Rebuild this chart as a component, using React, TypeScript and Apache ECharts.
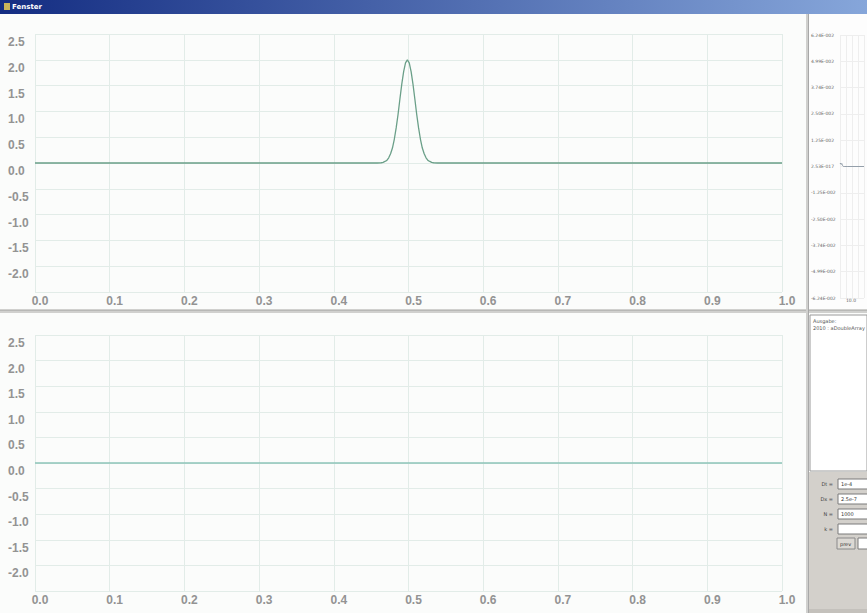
import React, { useEffect, useRef } from "react";
import * as echarts from "echarts";

// ---- data ----
const xTickLabels = ["0.0", "0.1", "0.2", "0.3", "0.4", "0.5", "0.6", "0.7", "0.8", "0.9", "1.0"];
const yTickLabels = ["-2.0", "-1.5", "-1.0", "-0.5", "0.0", "0.5", "1.0", "1.5", "2.0", "2.5"];

const topX = [
  0, 0.458, 0.4635, 0.466, 0.4685, 0.471, 0.4735, 0.476, 0.4785, 0.481, 0.4835, 0.486, 0.4885, 0.491,
  0.4935, 0.496, 0.4985, 0.501, 0.5035, 0.506, 0.5085, 0.511, 0.5135, 0.516, 0.5185, 0.521, 0.5235,
  0.526, 0.5285, 0.531, 0.5335, 0.539, 1,
];
const topY = [
  0, 0, 0.005, 0.012, 0.03, 0.05, 0.1, 0.18, 0.29, 0.46, 0.68, 0.94, 1.24, 1.53, 1.77, 1.94, 2.0, 1.94,
  1.77, 1.53, 1.24, 0.94, 0.68, 0.46, 0.29, 0.18, 0.1, 0.05, 0.03, 0.012, 0.005, 0, 0,
];

const bottomX = [0, 1];
const bottomY = [0, 0];

const miniX = [5, 5.5, 6, 6.5, 7, 7.5, 8, 9, 11, 15, 25];
const miniY = [0.12, 0.16, 0.1, 0.14, 0.06, 0.02, 0, 0, 0, 0, 0];
const miniYLabels = [
  "-6.24E-002", "-4.99E-002", "-3.74E-002", "-2.50E-002", "-1.25E-002", "2.53E-017",
  "1.25E-002", "2.50E-002", "3.74E-002", "4.99E-002", "6.24E-002",
];
const miniXLabels = ["5.0", "10.0"];

const paramLabels = ["Dt =", "Dx =", "N =", "k ="];
const paramValues = ["1e-4", "2.5e-7", "1000", ""];

const W = 867;
const H = 613;

export default function App() {
  const ref = useRef<HTMLDivElement>(null);

  useEffect(() => {
    const chart = echarts.init(ref.current!, undefined, { renderer: "svg", width: W, height: H });

    const labelColor = "#939393";
    const gridColor = "#e2ece8";
    const font = "Liberation Sans";

    const mainX = (gi: number) => ({
      type: "value",
      gridIndex: gi,
      min: 0,
      max: 1,
      interval: 0.1,
      axisLine: { show: false },
      axisTick: { show: false },
      splitLine: { show: true, lineStyle: { color: gridColor, width: 1 } },
      axisLabel: {
        color: labelColor,
        fontFamily: font,
        fontWeight: "bold",
        fontSize: 12,
        margin: 3,
        align: "center",
        padding: [0, 0, 0, 10],
        formatter: (v: number) => xTickLabels[Math.round(v * 10)] ?? "",
      },
    });
    const mainY = (gi: number) => ({
      type: "value",
      gridIndex: gi,
      min: -2.5,
      max: 2.5,
      interval: 0.5,
      axisLine: { show: false },
      axisTick: { show: false },
      splitLine: { show: true, lineStyle: { color: gridColor, width: 1 } },
      axisLabel: {
        color: labelColor,
        fontFamily: font,
        fontWeight: "bold",
        fontSize: 12,
        margin: 27,
        align: "left",
        verticalAlign: "top",
        padding: [2, 0, 0, 0],
        formatter: (v: number) => {
          const i = Math.round((v + 2) / 0.5);
          return i >= 0 && i < yTickLabels.length ? yTickLabels[i] : "";
        },
      },
    });

    const tiny = { fontFamily: "DejaVu Sans", fontSize: 5, fill: "#555" };

    const graphics: any[] = [
      // title bar
      {
        type: "rect",
        shape: { x: 0, y: 0, width: W, height: 14 },
        style: {
          fill: new echarts.graphic.LinearGradient(0, 0, 1, 0, [
            { offset: 0, color: "#142d82" },
            { offset: 1, color: "#86a6da" },
          ]),
        },
        z: -5,
      },
      { type: "rect", shape: { x: 4, y: 3, width: 6, height: 7 }, style: { fill: "#c8b45a" }, z: 5 },
      {
        type: "text",
        x: 12,
        y: 3,
        style: { text: "Fenster", fill: "#ffffff", font: "bold 7px DejaVu Sans" },
        z: 5,
      },
      // chart backgrounds
      { type: "rect", shape: { x: 0, y: 14, width: 806, height: H - 14 }, style: { fill: "#fbfcfb" }, z: -10 },
      // horizontal separator
      { type: "rect", shape: { x: 0, y: 309, width: W, height: 4 }, style: { fill: "#d0d0ce" }, z: -4 },
      { type: "rect", shape: { x: 0, y: 310, width: W, height: 1 }, style: { fill: "#b8b8b6" }, z: -4 },
      // vertical separator
      { type: "rect", shape: { x: 806, y: 14, width: 3, height: H - 14 }, style: { fill: "#d0d0ce" }, z: -4 },
      { type: "rect", shape: { x: 808, y: 14, width: 1, height: H - 14 }, style: { fill: "#a8a8a8" }, z: -4 },
      // right mini chart background
      { type: "rect", shape: { x: 809, y: 14, width: 58, height: 295 }, style: { fill: "#fdfdfd" }, z: -10 },
      // text area
      {
        type: "rect",
        shape: { x: 810, y: 315, width: 57, height: 156 },
        style: { fill: "#ffffff", stroke: "#9a9a9a", lineWidth: 1 },
        z: -3,
      },
      { type: "text", x: 813, y: 318, style: { ...tiny, text: "Ausgabe:" }, z: 5 },
      { type: "text", x: 813, y: 325, style: { ...tiny, text: "2010 : aDoubleArray" }, z: 5 },
      // gray panel
      { type: "rect", shape: { x: 809, y: 472, width: 58, height: H - 472 }, style: { fill: "#d3d0cb" }, z: -3 },
      { type: "rect", shape: { x: 809, y: 609, width: 58, height: 4 }, style: { fill: "#c4c1bc" }, z: -3 },
    ];

    paramLabels.forEach((lab, i) => {
      const y = 479 + i * 15;
      graphics.push({
        type: "text",
        x: 833,
        y: y + 5,
        style: { ...tiny, text: lab, fill: "#444", align: "right", verticalAlign: "middle" },
        z: 5,
      });
      graphics.push({
        type: "rect",
        shape: { x: 838, y, width: 32, height: 10 },
        style: { fill: "#ffffff", stroke: "#7a7a7a", lineWidth: 1 },
        z: 4,
      });
      graphics.push({
        type: "text",
        x: 841,
        y: y + 5,
        style: { ...tiny, text: paramValues[i], fill: "#333", verticalAlign: "middle" },
        z: 5,
      });
    });
    graphics.push({
      type: "rect",
      shape: { x: 837, y: 538, width: 18, height: 11 },
      style: { fill: "#dcd9d4", stroke: "#8a8a8a", lineWidth: 1 },
      z: 4,
    });
    graphics.push({
      type: "text",
      x: 840,
      y: 543.5,
      style: { ...tiny, text: "prev", fill: "#333", verticalAlign: "middle" },
      z: 5,
    });
    graphics.push({
      type: "rect",
      shape: { x: 858, y: 538, width: 12, height: 11 },
      style: { fill: "#ffffff", stroke: "#7a7a7a", lineWidth: 1 },
      z: 4,
    });

    chart.setOption({
      animation: false,
      backgroundColor: "transparent",
      grid: [
        { left: 35, width: 747, top: 34, height: 258 },
        { left: 35, width: 747, top: 335, height: 256 },
        { left: 840, width: 60, top: 35, height: 263 },
      ],
      xAxis: [
        mainX(0),
        mainX(1),
        {
          type: "value",
          gridIndex: 2,
          min: 5,
          max: 25,
          interval: 5,
          axisLine: { show: false },
          axisTick: { show: false },
          splitLine: { show: true, lineStyle: { color: "#eeeeee" } },
          axisLabel: {
            color: "#666",
            fontSize: 4.5,
            fontFamily: "DejaVu Sans",
            margin: 0,
            align: "left",
            formatter: (v: number) => miniXLabels[Math.round((v - 5) / 5)] ?? "",
          },
        },
      ],
      yAxis: [
        mainY(0),
        mainY(1),
        {
          type: "value",
          gridIndex: 2,
          min: -6.25,
          max: 6.25,
          interval: 1.25,
          axisLine: { show: false },
          axisTick: { show: false },
          splitLine: { show: true, lineStyle: { color: "#eeeeee" } },
          axisLabel: {
            color: "#666",
            fontSize: 4.5,
            fontFamily: "DejaVu Sans",
            margin: 29,
            align: "left",
            formatter: (v: number) => miniYLabels[Math.round((v + 6.25) / 1.25)] ?? "",
          },
        },
      ],
      series: [
        {
          type: "line",
          xAxisIndex: 0,
          yAxisIndex: 0,
          data: topX.map((x, i) => [x, topY[i]]),
          showSymbol: false,
          lineStyle: { color: "#6a9f88", width: 1.3 },
        },
        {
          type: "line",
          xAxisIndex: 1,
          yAxisIndex: 1,
          data: bottomX.map((x, i) => [x, bottomY[i]]),
          showSymbol: false,
          lineStyle: { color: "#8cc4b8", width: 1.3 },
        },
        {
          type: "line",
          xAxisIndex: 2,
          yAxisIndex: 2,
          data: miniX.map((x, i) => [x, miniY[i]]),
          showSymbol: false,
          lineStyle: { color: "#7c8a98", width: 0.8 },
        },
      ],
      graphic: graphics,
    });

    return () => chart.dispose();
  }, []);

  return (
    <div
      ref={ref}
      style={{ position: "fixed", left: 0, top: 0, width: W, height: H, background: "#fbfcfb" }}
    />
  );
}
